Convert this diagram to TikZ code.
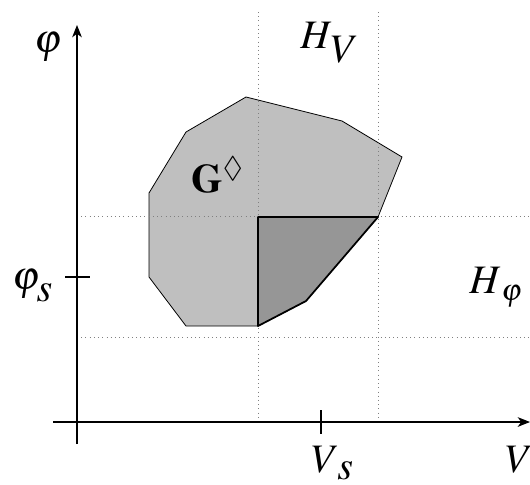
\documentclass[tikz,border=0pt]{standalone}
\usepackage{mathptmx}
\usepackage{amssymb}
\usetikzlibrary{arrows.meta}

\definecolor{regionlight}{gray}{0.75}
\definecolor{regiondark}{gray}{0.59}

% subscript at full size, dropped by #2
\newcommand{\dropsub}[3]{#1\raisebox{-#2}{$#3$}}

\begin{document}
\begin{tikzpicture}[
  x=0.02cm, y=-0.02cm,
  axis/.style={-{Stealth[length=7pt, width=5.5pt, inset=2pt]}, line width=0.6pt},
  tick/.style={line width=0.6pt},
  guide/.style={dotted, gray, line width=0.4pt},
  region/.style={draw, fill=regionlight, line width=0.45pt},
  subregion/.style={draw, fill=regiondark, line width=1pt, line join=round},
  lab/.style={inner sep=0pt, anchor=base west, font=\fontsize{23}{27}\selectfont}
]
  \useasboundingbox (0,0) rectangle (530,484);

  % axes ends
  \coordinate (xstart) at (53,422);
  \coordinate (xend) at (530,422);
  \coordinate (ystart) at (77,444);
  \coordinate (yend) at (77,25);

  % region G
  \draw[region] (246,97) -- (342,121) -- (402,157) -- (378,217) -- (306,301)
    -- (258,326) -- (186,326) -- (149,277) -- (149,193) -- (186,132) -- cycle;

  % guide lines
  \draw[guide] (77,216) -- (530,216);
  \draw[guide] (77,337) -- (530,337);
  \draw[guide] (258,12) -- (258,422);
  \draw[guide] (378,12) -- (378,422);

  \draw[subregion] (258,217) -- (378,217) -- (306,301) -- (258,326) -- cycle;

  % axes
  \draw[axis] (xstart) -- (xend);
  \draw[axis] (ystart) -- (yend);
  \draw[tick] (65,277) -- (90,277);
  \draw[tick] (321,410) -- (321,434);

  % labels
  \node[lab] (phi) at (34,52) {$\varphi$};
  \node[lab] (phis) at (12,289) {$\dropsub{\varphi\kern-2pt}{7pt}{s}$};
  \node[lab] (HV) at (300,48) {$\dropsub{H\kern-1pt}{8pt}{V}$};
  \node[lab] (Hphi) at (469,293) {$\dropsub{H}{4pt}{\scalebox{0.75}{$\varphi$}}$};
  \node[lab] (Vs) at (311,472) {$\dropsub{V\kern-1pt}{4.5pt}{s}$};
  \node[lab] (V) at (505,472) {$V$};
  \node[lab] (G) at (191,192) {$\mathbf{G}^{\lozenge}$};
\end{tikzpicture}
\end{document}
